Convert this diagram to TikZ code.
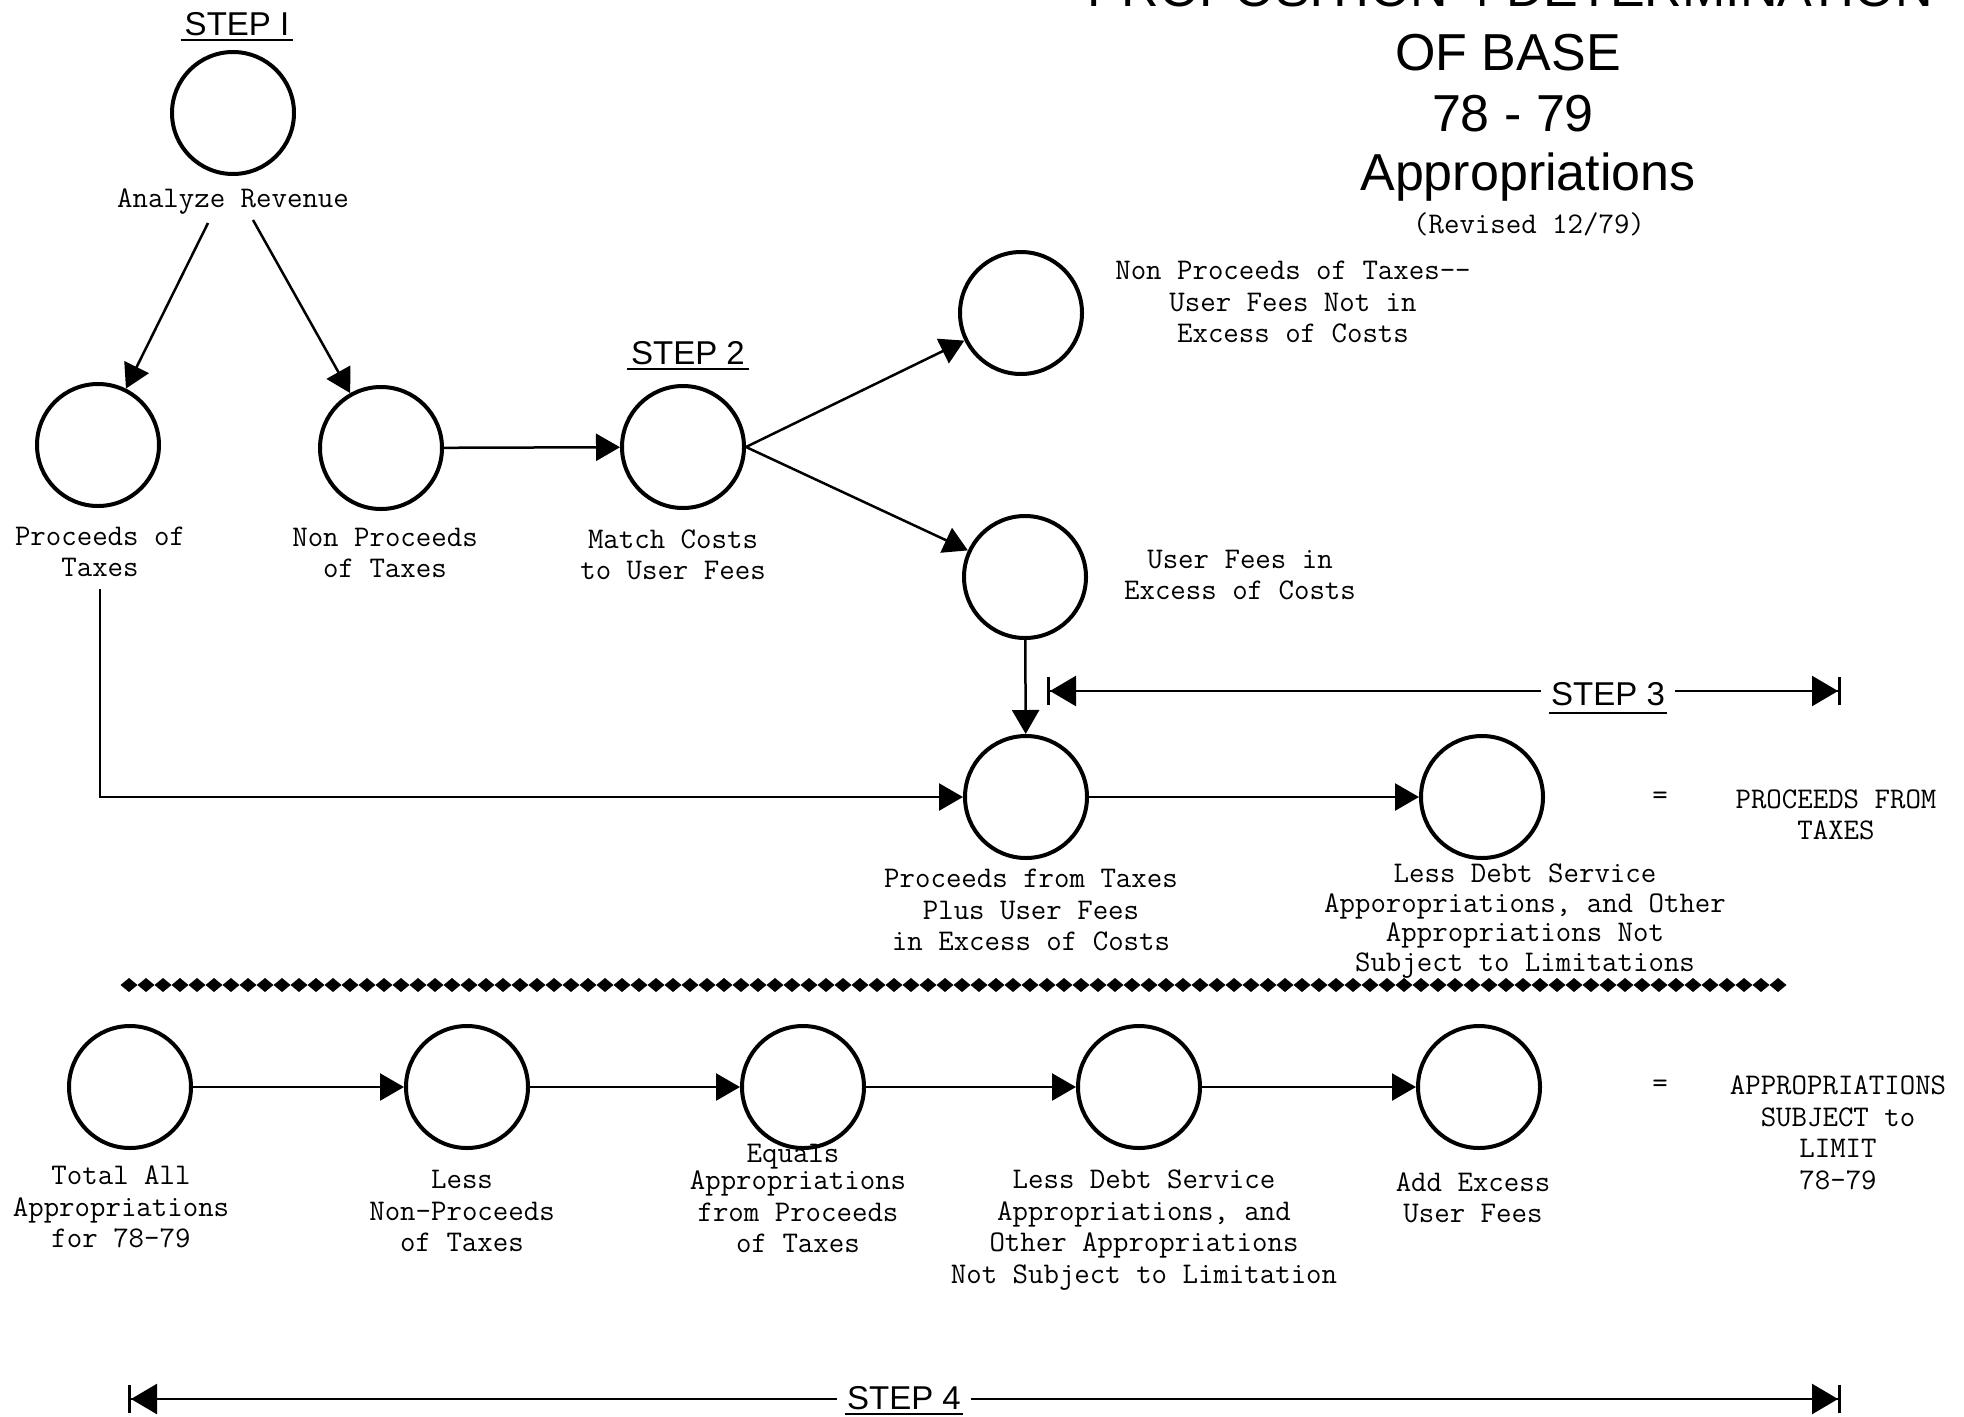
\documentclass[tikz,border=0pt]{standalone}
\usepackage{fontspec}
\newfontfamily\headfont{Liberation Sans}
\usetikzlibrary{arrows.meta}
\begin{document}
\begin{tikzpicture}[x=1pt,y=-1pt,
  circ/.style={circle,draw,line width=4pt,minimum size=122pt,inner sep=0pt},
  lab/.style={font=\ttfamily\fontsize{30}{31.5}\selectfont,align=center,inner sep=0pt},
  arr/.style={line width=2.5pt,-{Triangle[length=24pt,width=27pt]}},
  stepl/.style={font=\headfont\fontsize{33}{36}\selectfont,inner sep=0pt},
  uline/.style={line width=2.5pt},
  ttl/.style={font=\headfont\fontsize{52}{60}\selectfont,inner sep=0pt},
  bracket/.style={line width=2.5pt,{Bar[width=28pt,line width=3pt]Triangle[length=26pt,width=30pt]}-{Triangle[length=26pt,width=30pt]Bar[width=28pt,line width=3pt]}},
  dia/.style={fill=black}
]
\useasboundingbox (0,0) rectangle (1964,1416);
\clip (0,0) rectangle (1964,1416);
\fill[white] (0,0) rectangle (1964,1416);

% title
\node[ttl,anchor=base] (t0) at (1510,6) {PROPOSITION 4 DETERMINATION};
\node[ttl,anchor=base] (t1) at (1508,70) {OF BASE};
\node[ttl,anchor=base] (t2) at (1513,131) {78 - 79};
\node[ttl,anchor=base] (t3) at (1528,190) {Appropriations};
\node[lab] (t4) at (1529,224) {(Revised 12/79)};

% circles
\node[circ] (c1) at (233,113) {};
\node[circ] (c2) at (98,445) {};
\node[circ] (c3) at (381,448) {};
\node[circ] (c4) at (683,447) {};
\node[circ] (c5) at (1021,313) {};
\node[circ] (c6) at (1025,577) {};
\node[circ] (c7) at (1026,797) {};
\node[circ] (c8) at (1482,797) {};
\node[circ] (b1) at (130,1087) {};
\node[circ] (b2) at (467,1087) {};
\node[circ] (b3) at (803,1087) {};
\node[circ] (b4) at (1139,1087) {};
\node[circ] (b5) at (1479,1087) {};

% step labels
\node[stepl,anchor=base] (s1) at (237,35) {STEP I};
\draw[uline] ([xshift=-4pt,yshift=-5pt]s1.base west) -- ([xshift=4pt,yshift=-5pt]s1.base east);
\node[stepl,anchor=base] (s2) at (688,364) {STEP 2};
\draw[uline] ([xshift=-4pt,yshift=-5pt]s2.base west) -- ([xshift=4pt,yshift=-5pt]s2.base east);

% labels
\node[lab] (l1) at (233,202) {Analyze Revenue};
\node[lab] (l2) at (100,552) {Proceeds of\\Taxes};
\node[lab] (l3) at (385,553) {Non Proceeds\\of Taxes};
\node[lab] (l4) at (673,555) {Match Costs\\to User Fees};
\node[lab] (l5) at (1293,302) {Non Proceeds of Taxes-{}-\\User Fees Not in\\Excess of Costs};
\node[lab] (l6) at (1240,575) {User Fees in\\Excess of Costs};
\node[lab] (l7) at (1031,910) {Proceeds from Taxes\\Plus User Fees\\in Excess of Costs};
\node[lab,font=\ttfamily\fontsize{30}{29.5}\selectfont] (l8) at (1525,921) {Less Debt Service\\Apporopriations, and Other\\Appropriations Not\\Subject to Limitations};
\node[lab] (e1) at (1660,798) {=};
\node[lab] (r1) at (1836,815) {PROCEEDS FROM\\TAXES};

\node[lab] (m1) at (121,1207) {Total All\\Appropriations\\for 78-79};
\node[lab] (m2) at (462,1211) {Less\\Non-Proceeds\\of Taxes};
\node[lab] (m3a) at (793,1157) {Equals};
\node[lab] (m3) at (798,1212) {Appropriations\\from Proceeds\\of Taxes};
\node[lab] (m4) at (1144,1230) {Less Debt Service\\Appropriations, and\\Other Appropriations\\Not Subject to Limitation};
\node[lab] (m5) at (1473,1198) {Add Excess\\User Fees};
\node[lab] (e2) at (1660,1086) {=};
\node[lab] (r2) at (1838,1133) {APPROPRIATIONS\\SUBJECT to\\LIMIT\\78-79};

% connectors
\coordinate (a1) at (208,223);
\coordinate (a2) at (253,220);
\draw[arr] (a1) -- (c2);
\draw[arr] (a2) -- (c3);
\draw[arr] (c3) -- (c4);
\draw[arr] (c4.east) -- (c5);
\draw[arr] (c4.east) -- (c6);
\draw[arr] (c6) -- (c7);
\draw[arr] ([yshift=-12pt]l2.south) |- (c7);
\draw[arr] (c7) -- (c8);
\draw[arr] (b1) -- (b2);
\draw[arr] (b2) -- (b3);
\draw[arr] (b3) -- (b4);
\draw[arr] (b4) -- (b5);

% step 3 bracket
\coordinate (s3a) at (1047,691);
\coordinate (s3b) at (1841,691);
\draw[bracket] (s3a) -- (s3b);
\node[stepl,anchor=base,fill=white,inner xsep=10pt,inner ysep=2pt] (s3) at (1608,705) {STEP 3};
\draw[uline] ([xshift=8pt,yshift=-8pt]s3.base west) -- ([xshift=-8pt,yshift=-8pt]s3.base east);

% step 4 bracket
\coordinate (s4a) at (128,1399);
\coordinate (s4b) at (1841,1399);
\draw[bracket] (s4a) -- (s4b);
\node[stepl,anchor=base,fill=white,inner xsep=10pt,inner ysep=2pt] (s4) at (904,1409) {STEP 4};
\draw[uline] ([xshift=8pt,yshift=-5pt]s4.base west) -- ([xshift=-8pt,yshift=-5pt]s4.base east);

% diamond divider
\foreach \i in {0,...,97} {
  \fill[dia] ({129+17*\i},985) +(-8.5,0) -- +(0,-7) -- +(8.5,0) -- +(0,7) -- cycle;
}
\end{tikzpicture}
\end{document}
